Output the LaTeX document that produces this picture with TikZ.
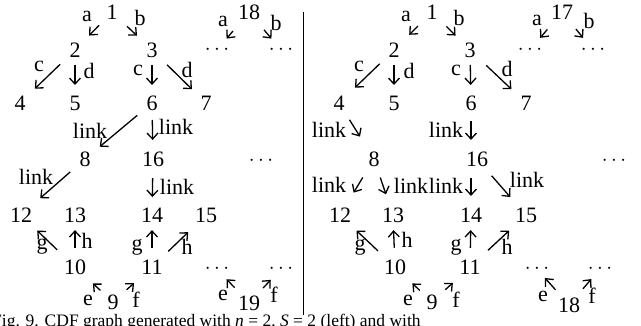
\documentclass[tikz,border=0pt]{standalone}
\usepackage{fontspec}
\setmainfont{Liberation Serif}
\usetikzlibrary{arrows.meta, calc}
\tikzstyle{num} = [inner sep=0pt, font=\fontsize{22}{26}\selectfont]
\tikzstyle{lbl} = [inner sep=0pt, font=\fontsize{22}{26}\selectfont]
\tikzstyle{arr} = [line width=1.3pt, -{Straight Barb[length=6pt,width=11pt]}]
\begin{document}
\begin{tikzpicture}[x=1pt, y=-1pt]
    \useasboundingbox (0,0) rectangle (641,325);
    \clip (0,0) rectangle (641,325);

    % left graph
    \node[num] (L1) at (112,12) {1};
    \node[num] (L18) at (249,12) {18};
    \node[num] (L2) at (75,50) {2};
    \node[num] (L3) at (152,50) {3};
    \node[num] (Lda) at (217,50) {$\cdots$};
    \node[num] (Ldb) at (281,50) {$\cdots$};
    \node[num] (L4) at (20,103) {4};
    \node[num] (L5) at (75,103) {5};
    \node[num] (L6) at (152,103) {6};
    \node[num] (L7) at (206,103) {7};
    \node[num] (L8) at (85,159) {8};
    \node[num] (L16) at (153,159) {16};
    \node[num] (Ldm) at (261,161) {$\cdots$};
    \node[num] (L12) at (21,215) {12};
    \node[num] (L13) at (75,215) {13};
    \node[num] (L14) at (152,215) {14};
    \node[num] (L15) at (206,215) {15};
    \node[num] (L10) at (75,267) {10};
    \node[num] (L11) at (152,267) {11};
    \node[num] (Ldc) at (217,269) {$\cdots$};
    \node[num] (Ldd) at (281,269) {$\cdots$};
    \node[num] (L9) at (113,302) {9};
    \node[num] (L19) at (249,303) {19};

    \node[lbl] (ta1) at (87,16) {a};
    \node[lbl] (tb1) at (140,18) {b};
    \node[lbl] (ta18) at (223,21) {a};
    \node[lbl] (tb18) at (276,23) {b};
    \node[lbl] (tc2) at (39,66) {c};
    \node[lbl] (td2) at (89,71) {d};
    \node[lbl] (tc3) at (138,70) {c};
    \node[lbl] (td3) at (187,70) {d};
    \node[lbl] (tl6a) at (90,131) {link};
    \node[lbl] (tl6b) at (176,127) {link};
    \node[lbl] (tl8) at (36,177) {link};
    \node[lbl] (tl16) at (177,187) {link};
    \node[lbl] (tg10) at (42,246) {g};
    \node[lbl] (th10) at (87,241) {h};
    \node[lbl] (tg11) at (137,247) {g};
    \node[lbl] (th11) at (187,247) {h};
    \node[lbl] (te9) at (88,300) {e};
    \node[lbl] (tf9) at (136,300) {f};
    \node[lbl] (te19) at (223,295) {e};
    \node[lbl] (tf19) at (274,295) {f};

    \draw[arr] ($(L1)!.35!(L2)$) -- ($(L1)!.62!(L2)$);
    \draw[arr] ($(L1)!.375!(L3)$) -- ($(L1)!.625!(L3)$);
    \draw[arr] ($(L18)!.5!(Lda)$) -- ($(L18)!.7!(Lda)$);
    \draw[arr] ($(L18)!.47!(Ldb)$) -- ($(L18)!.7!(Ldb)$);
    \draw[arr] ($(L2)!.27!(L4)$) -- ($(L2)!.73!(L4)$);
    \draw[arr] ($(L2)!.28!(L5)$) -- ($(L2)!.66!(L5)$);
    \draw[arr] ($(L3)!.28!(L6)$) -- ($(L3)!.66!(L6)$);
    \draw[arr] ($(L3)!.28!(L7)$) -- ($(L3)!.74!(L7)$);
    \draw[arr] ($(L6)!.22!(L8)$) -- ($(L6)!.78!(L8)$);
    \draw[arr] ($(L6)!.3!(L16)$) -- ($(L6)!.66!(L16)$);
    \draw[arr] ($(L8)!.23!(L12)$) -- ($(L8)!.7!(L12)$);
    \draw[arr] ($(L16)!.34!(L14)$) -- ($(L16)!.68!(L14)$);
    \draw[arr] ($(L10)!.33!(L12)$) -- ($(L10)!.7!(L12)$);
    \draw[arr] ($(L10)!.37!(L13)$) -- ($(L10)!.71!(L13)$);
    \draw[arr] ($(L11)!.37!(L14)$) -- ($(L11)!.71!(L14)$);
    \draw[arr] ($(L11)!.3!(L15)$) -- ($(L11)!.67!(L15)$);
    \draw[arr] ($(L9)!.33!(L10)$) -- ($(L9)!.53!(L10)$);
    \draw[arr] ($(L9)!.35!(L11)$) -- ($(L9)!.54!(L11)$);
    \draw[arr] ($(L19)!.45!(Ldc)$) -- ($(L19)!.7!(Ldc)$);
    \draw[arr] ($(L19)!.44!(Ldd)$) -- ($(L19)!.68!(Ldd)$);

    \draw[line width=1pt] (303,12) -- (303,315);

    % right graph
    \node[num] (R1) at (432,12) {1};
    \node[num] (R17) at (562,12) {17};
    \node[num] (R2) at (394,50) {2};
    \node[num] (R3) at (470,50) {3};
    \node[num] (Rda) at (530,50) {$\cdots$};
    \node[num] (Rdb) at (593,50) {$\cdots$};
    \node[num] (R4) at (339,103) {4};
    \node[num] (R5) at (394,103) {5};
    \node[num] (R6) at (471,103) {6};
    \node[num] (R7) at (526,103) {7};
    \node[num] (R8) at (374,159) {8};
    \node[num] (R16) at (477,159) {16};
    \node[num] (Rdm) at (614,161) {$\cdots$};
    \node[num] (R12) at (340,215) {12};
    \node[num] (R13) at (393,215) {13};
    \node[num] (R14) at (471,215) {14};
    \node[num] (R15) at (526,215) {15};
    \node[num] (R10) at (395,267) {10};
    \node[num] (R11) at (470,267) {11};
    \node[num] (Rdc) at (537,269) {$\cdots$};
    \node[num] (Rdd) at (600,269) {$\cdots$};
    \node[num] (R9) at (432,302) {9};
    \node[num] (R18) at (569,305) {18};

    \node[lbl] (ua1) at (406,16) {a};
    \node[lbl] (ub1) at (459,18) {b};
    \node[lbl] (ua17) at (537,20) {a};
    \node[lbl] (ub17) at (589,21) {b};
    \node[lbl] (uc2) at (359,66) {c};
    \node[lbl] (ud2) at (409,71) {d};
    \node[lbl] (uc3) at (456,70) {c};
    \node[lbl] (ud3) at (507,69) {d};
    \node[lbl] (ul4) at (329,130) {link};
    \node[lbl] (ul6) at (446,130) {link};
    \node[lbl] (ul8a) at (329,185) {link};
    \node[lbl] (ul8b) at (411,186) {link};
    \node[lbl] (ul16a) at (446,186) {link};
    \node[lbl] (ul16b) at (527,180) {link};
    \node[lbl] (ug10) at (360,247) {g};
    \node[lbl] (uh10) at (407,240) {h};
    \node[lbl] (ug11) at (456,247) {g};
    \node[lbl] (uh11) at (507,247) {h};
    \node[lbl] (ue9) at (408,300) {e};
    \node[lbl] (uf9) at (456,300) {f};
    \node[lbl] (ue18) at (543,296) {e};
    \node[lbl] (uf18) at (592,296) {f};

    \draw[arr] ($(R1)!.37!(R2)$) -- ($(R1)!.6!(R2)$);
    \draw[arr] ($(R1)!.38!(R3)$) -- ($(R1)!.62!(R3)$);
    \draw[arr] ($(R17)!.46!(Rda)$) -- ($(R17)!.68!(Rda)$);
    \draw[arr] ($(R17)!.45!(Rdb)$) -- ($(R17)!.68!(Rdb)$);
    \draw[arr] ($(R2)!.26!(R4)$) -- ($(R2)!.71!(R4)$);
    \draw[arr] ($(R2)!.28!(R5)$) -- ($(R2)!.66!(R5)$);
    \draw[arr] ($(R3)!.28!(R6)$) -- ($(R3)!.66!(R6)$);
    \draw[arr] ($(R3)!.29!(R7)$) -- ($(R3)!.74!(R7)$);
    \draw[arr] ($(R4)!.3!(R8)$) -- ($(R4)!.6!(R8)$);
    \draw[arr] ($(R6)!.33!(R6|-R16)$) -- ($(R6)!.66!(R6|-R16)$);
    \draw[arr] ($(R8)!.33!(R12)$) -- ($(R8)!.6!(R12)$);
    \draw[arr] ($(R8)!.33!(R13)$) -- ($(R8)!.63!(R13)$);
    \draw[arr] ($(R14|-R16)!.34!(R14)$) -- ($(R14|-R16)!.66!(R14)$);
    \draw[arr] ($(R16)!.3!(R15)$) -- ($(R16)!.68!(R15)$);
    \draw[arr] ($(R10)!.31!(R12)$) -- ($(R10)!.7!(R12)$);
    \draw[arr] ($(R10)!.37!(R13)$) -- ($(R10)!.71!(R13)$);
    \draw[arr] ($(R11)!.37!(R14)$) -- ($(R11)!.71!(R14)$);
    \draw[arr] ($(R11)!.32!(R15)$) -- ($(R11)!.7!(R15)$);
    \draw[arr] ($(R9)!.33!(R10)$) -- ($(R9)!.53!(R10)$);
    \draw[arr] ($(R9)!.35!(R11)$) -- ($(R9)!.55!(R11)$);
    \draw[arr] ($(R18)!.42!(Rdc)$) -- ($(R18)!.75!(Rdc)$);
    \draw[arr] ($(R18)!.45!(Rdd)$) -- ($(R18)!.72!(Rdd)$);

    \node[lbl, font=\fontsize{17.5}{21}\selectfont, anchor=base west] (cap) at (-8,326) {Fig. 9. CDF graph generated with \textit{n} = 2, \textit{S} = 2 (left) and with};
\end{tikzpicture}
\end{document}
